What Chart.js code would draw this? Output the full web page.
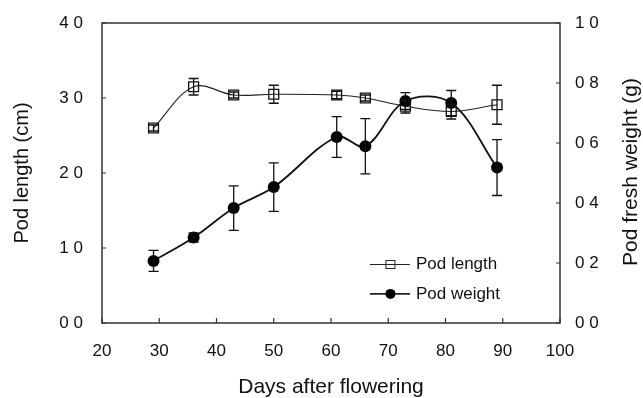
<!DOCTYPE html>
<html><head><meta charset="utf-8">
<script src="https://cdn.jsdelivr.net/npm/chart.js@4.4.1/dist/chart.umd.min.js"></script>
<style>html,body{margin:0;padding:0;background:#fff;} canvas{display:block;}</style>
</head><body>
<canvas id="c" width="643" height="398"></canvas>
<script>
// ---- data ----
const days = [29, 36, 43, 50, 61, 66, 73, 81, 89];
const podLength = [26.0, 31.5, 30.4, 30.5, 30.4, 30.0, 28.9, 28.2, 29.1];
const podLengthErr = [0.4, 1.1, 0.4, 1.2, 0.5, 0.4, 0.9, 1.0, 2.6];
const podWeight = [0.207, 0.285, 0.383, 0.453, 0.620, 0.589, 0.740, 0.733, 0.518];
const podWeightErr = [0.035, 0.015, 0.074, 0.081, 0.068, 0.092, 0.028, 0.042, 0.093];
const xTickValues = [20, 30, 40, 50, 60, 70, 80, 90, 100];
const leftTickLabels = ['0 0', '1 0', '2 0', '3 0', '4 0'];
const rightTickLabels = ['0 0', '0 2', '0 4', '0 6', '0 8', '1 0'];
const seriesNames = ['Pod length', 'Pod weight'];
const axisTitles = {x: 'Days after flowering', y: 'Pod length (cm)', y1: 'Pod fresh weight (g)'};

const FONT = '"Liberation Sans", Arial, sans-serif';
Chart.defaults.font.family = FONT;
Chart.defaults.color = '#111';

const toPts = (xs, ys) => xs.map((x, i) => ({x: x, y: ys[i]}));

const errorBars = {
  id: 'errorBars',
  afterDatasetsDraw(chart) {
    const ctx = chart.ctx;
    const x = chart.scales.x;
    const sets = [[chart.scales.y, podLength, podLengthErr], [chart.scales.y1, podWeight, podWeightErr]];
    ctx.save();
    ctx.strokeStyle = '#111';
    ctx.lineWidth = 1.3;
    sets.forEach(([ys, vals, errs]) => {
      days.forEach((d, i) => {
        const px = x.getPixelForValue(d);
        const top = ys.getPixelForValue(vals[i] + errs[i]);
        const bot = ys.getPixelForValue(vals[i] - errs[i]);
        ctx.beginPath();
        ctx.moveTo(px, top); ctx.lineTo(px, bot);
        ctx.moveTo(px - 5, top); ctx.lineTo(px + 5, top);
        ctx.moveTo(px - 5, bot); ctx.lineTo(px + 5, bot);
        ctx.stroke();
      });
    });
    ctx.restore();
  }
};

const frame = {
  id: 'frame',
  afterDraw(chart) {
    const ctx = chart.ctx;
    const a = chart.chartArea;
    ctx.save();
    ctx.strokeStyle = '#333';
    ctx.lineWidth = 1.5;
    ctx.strokeRect(a.left, a.top, a.right - a.left, a.bottom - a.top);
    ctx.lineWidth = 1.2;
    ctx.beginPath();
    xTickValues.forEach(v => {
      const p = chart.scales.x.getPixelForValue(v);
      ctx.moveTo(p, a.bottom); ctx.lineTo(p, a.bottom - 5);
    });
    chart.scales.y.ticks.forEach(t => {
      const p = chart.scales.y.getPixelForValue(t.value);
      ctx.moveTo(a.left, p); ctx.lineTo(a.left + 4, p);
    });
    chart.scales.y1.ticks.forEach(t => {
      const p = chart.scales.y1.getPixelForValue(t.value);
      ctx.moveTo(a.right, p); ctx.lineTo(a.right - 4, p);
    });
    ctx.stroke();

    // right axis title, reading bottom-to-top
    ctx.save();
    ctx.translate(631, (a.top + a.bottom) / 2 - 1);
    ctx.rotate(-Math.PI / 2);
    ctx.font = '21px ' + FONT;
    ctx.fillStyle = '#111';
    ctx.textAlign = 'center';
    ctx.textBaseline = 'middle';
    ctx.fillText(axisTitles.y1, 0, 0);
    ctx.restore();

    // legend
    const lx = a.left + (a.right - a.left) * 0.585;
    const ly1 = a.top + (a.bottom - a.top) * 0.805;
    const ly2 = a.top + (a.bottom - a.top) * 0.903;
    ctx.strokeStyle = '#222';
    ctx.lineWidth = 1;
    ctx.beginPath(); ctx.moveTo(lx, ly1); ctx.lineTo(lx + 40, ly1); ctx.stroke();
    ctx.strokeRect(lx + 16, ly1 - 4, 9, 8);
    ctx.lineWidth = 1.8;
    ctx.beginPath(); ctx.moveTo(lx, ly2); ctx.lineTo(lx + 40, ly2); ctx.stroke();
    ctx.fillStyle = '#000';
    ctx.beginPath(); ctx.arc(lx + 20.5, ly2, 5, 0, Math.PI * 2); ctx.fill();
    ctx.font = '17px ' + FONT;
    ctx.fillStyle = '#111';
    ctx.textBaseline = 'middle';
    ctx.fillText(seriesNames[0], lx + 46, ly1);
    ctx.fillText(seriesNames[1], lx + 46, ly2);
    ctx.restore();
  }
};

new Chart(document.getElementById('c'), {
  type: 'line',
  data: {
    datasets: [
      {
        label: seriesNames[0],
        data: toPts(days, podLength),
        yAxisID: 'y',
        borderColor: '#222',
        borderWidth: 1.1,
        pointStyle: 'rect',
        pointRadius: 7,
        pointBorderWidth: 1.3,
        pointBorderColor: '#111',
        pointBackgroundColor: 'rgba(0,0,0,0)',
        tension: 0.35,
        fill: false
      },
      {
        label: seriesNames[1],
        data: toPts(days, podWeight),
        yAxisID: 'y1',
        borderColor: '#111',
        borderWidth: 1.8,
        pointStyle: 'circle',
        pointRadius: 6,
        pointBorderWidth: 0,
        pointBackgroundColor: '#000',
        tension: 0.35,
        fill: false
      }
    ]
  },
  options: {
    responsive: false,
    animation: false,
    layout: {padding: {top: 23, left: 0, right: 0, bottom: 0}},
    plugins: {legend: {display: false}, tooltip: {enabled: false}},
    scales: {
      x: {
        type: 'linear', min: 20, max: 100,
        afterBuildTicks: s => { s.ticks = xTickValues.map(v => ({value: v})); },
        ticks: {font: {size: 17}, padding: 10, maxRotation: 0, callback: v => String(v)},
        grid: {display: false}, border: {display: false},
        afterFit: s => { s.height = 75; },
        title: {display: true, text: axisTitles.x, font: {size: 21, lineHeight: 1}, padding: {top: 0, bottom: 0}}
      },
      y: {
        position: 'left', min: 0, max: 40,
        ticks: {stepSize: 10, font: {size: 17}, padding: 11, callback: v => leftTickLabels[Math.round(v / 10)]},
        grid: {display: false}, border: {display: false},
        afterFit: s => { s.width = 102; },
        title: {display: true, text: axisTitles.y, font: {size: 20, lineHeight: 1}, padding: {top: 12, bottom: 0}}
      },
      y1: {
        position: 'right', min: 0, max: 1,
        ticks: {stepSize: 0.2, font: {size: 17}, padding: 7, callback: v => rightTickLabels[Math.round(v * 5)]},
        grid: {display: false}, border: {display: false},
        afterFit: s => { s.width = 83; },
        title: {display: false}
      }
    }
  },
  plugins: [errorBars, frame]
});
</script>
</body></html>
